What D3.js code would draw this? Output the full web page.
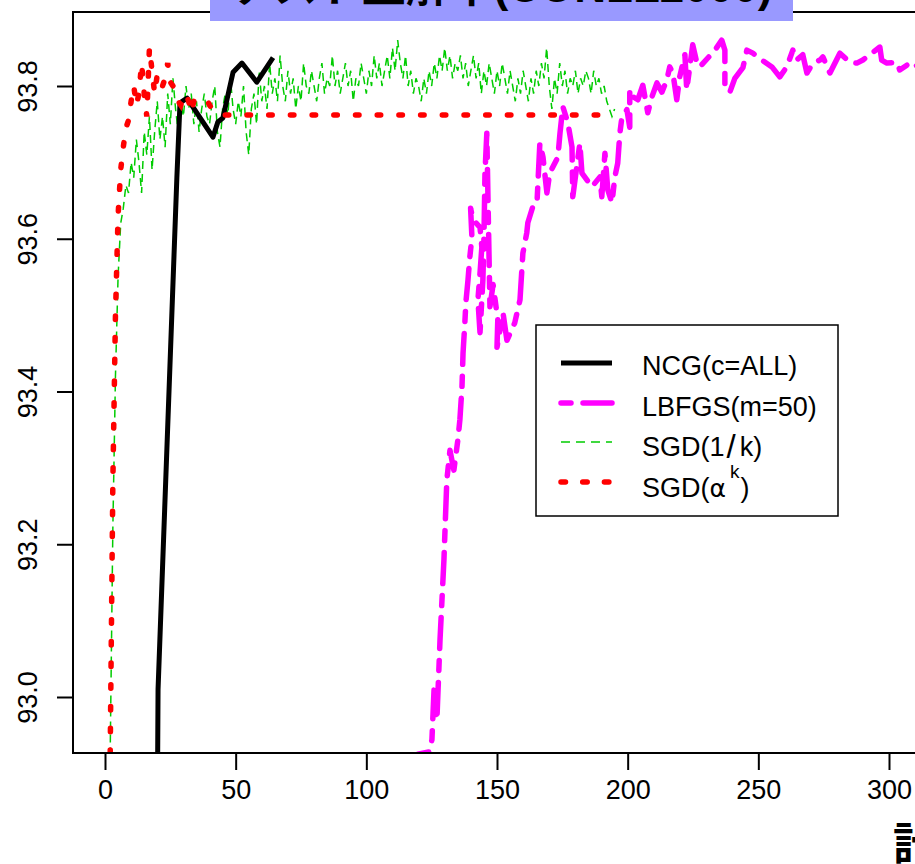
<!DOCTYPE html>
<html><head><meta charset="utf-8">
<script src="https://cdn.jsdelivr.net/npm/d3@7"></script>
<style>body{margin:0;background:#fff}svg{display:block}</style>
</head><body>
<svg id="c" width="915" height="864"></svg>
<script>
// ---- data ----
const titleText = "テスト正解率(CONLL2000)";
const xLabelText = "計算時間";
const xTicks = [0, 50, 100, 150, 200, 250, 300];
const yTicks = [93.0, 93.2, 93.4, 93.6, 93.8];
const seriesNames = ["NCG(c=ALL)", "LBFGS(m=50)", "SGD(1/k)", "SGD(αk)"];

const ncg = [[19.6,92.60],[20.3,93.01],[27.5,93.68],[28.7,93.778],[31.4,93.784],[41.3,93.733],
  [43.2,93.753],[45.1,93.758],[49.0,93.818],[52.4,93.830],[58.1,93.805],[64.3,93.837]];

const sgdAlpha = [[1,92.5],[2,92.93],[3,93.28],[4,93.50],[5,93.63],[6,93.69],[7,93.72],[8,93.745],
  [9,93.755],[10,93.78],[11,93.80],[12,93.775],[13,93.79],[14,93.83],[15,93.79],[16,93.76],[17,93.85],
  [18,93.82],[19,93.79],[20,93.815],[21,93.80],[22,93.80],[23,93.81],[24,93.83],[25,93.805],[26,93.80],
  [27,93.79],[28,93.78],[29,93.775],[30,93.785],[31,93.79],[32,93.78],[33,93.765],[34,93.78],[35,93.78],
  [36,93.782],[37,93.782],[38,93.78],[39,93.782],[40,93.775],[41,93.77],[42,93.768],[43,93.765],
  [44,93.763],[45,93.762],[195,93.762]];

const sgdInv = [92.6,92.93,93.22,93.42,93.55,93.62,93.64,93.67,93.66,93.70,93.68,93.73,93.70,93.66,93.74,
  93.71,93.76,93.69,93.74,93.78,93.73,93.76,93.72,93.79,93.75,93.81,93.77,93.74,93.78,93.76,93.80,93.77,
  93.79,93.75,93.78,93.74,93.77,93.79,93.76,93.75,93.78,93.80,93.74,93.72,93.77,93.79,93.76,93.81,93.77,
  93.75,93.78,93.76,93.80,93.74,93.71,93.77,93.79,93.75,93.82,93.78,93.80,93.77,93.83,93.79,93.81,93.78,
  93.84,93.80,93.78,93.82,93.79,93.81,93.77,93.80,93.78,93.83,93.80,93.79,93.82,93.80,93.78,93.81,93.83,
  93.79,93.81,93.80,93.84,93.80,93.82,93.79,93.81,93.83,93.80,93.82,93.78,93.81,93.80,93.83,93.81,93.79,
  93.82,93.80,93.84,93.81,93.83,93.80,93.82,93.84,93.81,93.85,93.82,93.86,93.83,93.81,93.84,93.80,93.82,
  93.79,93.81,93.80,93.78,93.81,93.79,93.82,93.80,93.83,93.81,93.84,93.82,93.85,93.82,93.84,93.81,93.83,
  93.82,93.84,93.81,93.83,93.80,93.82,93.84,93.81,93.83,93.79,93.82,93.80,93.83,93.81,93.79,93.82,93.80,
  93.83,93.81,93.79,93.82,93.80,93.78,93.81,93.79,93.82,93.80,93.78,93.81,93.79,93.82,93.80,93.83,93.81,
  93.85,93.80,93.77,93.81,93.79,93.83,93.80,93.82,93.79,93.81,93.80,93.82,93.79,93.81,93.80,93.82,93.81,
  93.79,93.82,93.80,93.81,93.79,93.80,93.78,93.77,93.76,93.77];

const lbfgs = [[118,92.70],[119.7,92.925],[124,92.928],[125.1,92.944],[125.9,93.009],[127.0,92.970],
  [128.2,93.075],[129.7,93.18],[130.8,93.284],[132.0,93.323],[133.5,93.297],[135.0,93.336],[135.8,93.363],
  [136.6,93.406],[137.0,93.450],[137.7,93.490],[138.1,93.517],[138.9,93.546],[139.6,93.576],[140.4,93.602],
  [139.9,93.640],[140.8,93.625],[143.5,93.615],[144.2,93.589],[143.5,93.555],[142.7,93.520],[143.5,93.477],
  [144.6,93.546],[145.0,93.600],[145.4,93.686],[146.1,93.738],[147.3,93.511],[148.5,93.54],[150.3,93.494],
  [150.0,93.458],[152.3,93.503],[153.8,93.467],[156.8,93.490],[158.8,93.520],[159.9,93.581],[161.4,93.608],
  [161.8,93.621],[163.7,93.642],[165.3,93.647],[166.4,93.725],[167.6,93.707],[169.1,93.660],[170.2,93.686],
  [173.3,93.707],[174.1,93.738],[175.2,93.773],[177.1,93.752],[178.7,93.720],[179.0,93.655],[181.7,93.725],
  [182.5,93.686],[186.3,93.668],[189.4,93.681],[190.1,93.655],[191.3,93.712],[192.4,93.664],[194.0,93.647],
  [195.1,93.681],[196.2,93.699],[197.0,93.738],[197.8,93.759],[199.7,93.769],[200.8,93.746],[200.8,93.795],
  [202.0,93.786],[203.9,93.782],[205.8,93.801],[207.7,93.765],[209.3,93.786],[211.2,93.804],[213.1,93.792],
  [215.0,93.808],[216.1,93.825],[217.3,93.817],[218.8,93.782],[219.9,93.812],[221.9,93.841],[222.6,93.795],
  [224.9,93.854],[226.5,93.830],[227.6,93.825],[233.4,93.847],[236.0,93.860],[237.2,93.847],[237.2,93.799],
  [239.1,93.792],[241.0,93.810],[244.1,93.824],[245.6,93.847],[247.9,93.843],[251.3,93.834],[255.2,93.825],
  [258.2,93.812],[260.9,93.825],[263.2,93.847],[264.7,93.834],[267.0,93.841],[268.6,93.817],[270.9,93.830],
  [273.6,93.834],[274.7,93.838],[277.4,93.817],[281.2,93.843],[285.0,93.831],[287.7,93.830],[290.0,93.834],
  [296.5,93.851],[297.2,93.834],[299.2,93.830],[303.0,93.831],[304.1,93.821],[308.0,93.830],[309.9,93.825],
  [312,93.83]];

// ---- drawing ----
const svg = d3.select("#c");
const FONT = "'Liberation Sans', Arial, 'Noto Sans CJK JP', sans-serif";
const x = d3.scaleLinear().domain([0, 300]).range([105, 889]);
const y = d3.scaleLinear().domain([93.0, 93.8]).range([697, 86]);
const L = x.invert(73), R = x.invert(937), B = y.invert(753), T = y.invert(12);

svg.append("defs").append("clipPath").attr("id","clip").append("rect")
  .attr("x", x(L)).attr("y", y(T)).attr("width", x(R)-x(L)).attr("height", y(B)-y(T));

const plot = svg.append("g").attr("clip-path","url(#clip)");
const line = d3.line().x(d => x(d[0])).y(d => y(d[1]));

plot.append("path").datum(sgdInv.map((v,i) => [i+1, v])).attr("d", line)
  .attr("fill","none").attr("stroke","#00CC00").attr("stroke-width",1.5).attr("stroke-dasharray","8,5");
plot.append("path").datum(ncg).attr("d", line)
  .attr("fill","none").attr("stroke","#000").attr("stroke-width",5).attr("stroke-linejoin","round");
plot.append("path").datum(sgdAlpha).attr("d", line)
  .attr("fill","none").attr("stroke","#FF0000").attr("stroke-width",5.5)
  .attr("stroke-linecap","round").attr("stroke-dasharray","3.5,18.2");
plot.append("path").datum(lbfgs).attr("d", line)
  .attr("fill","none").attr("stroke","#FF00FF").attr("stroke-width",5.5)
  .attr("stroke-linecap","round").attr("stroke-linejoin","round").attr("stroke-dasharray","10,12,31,12");

// box
svg.append("rect").attr("x", x(L)).attr("y", y(T)).attr("width", x(R)-x(L)).attr("height", y(B)-y(T))
  .attr("fill","none").attr("stroke","#000").attr("stroke-width",2);

// axes
const xAxis = d3.axisBottom(x).tickValues(xTicks).tickSize(17).tickPadding(10).tickFormat(d3.format("d"));
const gx = svg.append("g").attr("transform", `translate(0,${y(B)})`).call(xAxis);
gx.select(".domain").remove();
gx.selectAll(".tick line").attr("stroke-width",2);
gx.selectAll(".tick text").attr("font-family",FONT).attr("font-size",27).attr("fill","#000");

const yAxis = d3.axisLeft(y).tickValues(yTicks).tickSize(16).tickFormat(d3.format(".1f"));
const gy = svg.append("g").attr("transform", `translate(${x(L)},0)`).call(yAxis);
gy.select(".domain").remove();
gy.selectAll(".tick line").attr("stroke-width",2);
gy.selectAll(".tick text").attr("font-family",FONT).attr("font-size",27).attr("fill","#000")
  .attr("x",0).attr("dy",0).attr("text-anchor","middle")
  .attr("transform","translate(-36,0) rotate(-90)");

// title
svg.append("rect").attr("x",210).attr("y",-10).attr("width",583).attr("height",31).attr("fill","#9999FF");
svg.append("text").attr("x",501).attr("y",2).attr("dominant-baseline","alphabetic").attr("text-anchor","middle")
  .attr("font-family",FONT).attr("font-weight","bold").attr("font-size",44).attr("fill","#000").text(titleText);

// clipped x label
svg.append("text").attr("x",893).attr("y",860).attr("font-family","'Noto Sans CJK JP', sans-serif")
  .attr("font-weight","bold").attr("font-size",44).attr("fill","#000").text(xLabelText);

// legend
const lg = svg.append("g");
lg.append("rect").attr("x",536).attr("y",325).attr("width",302).attr("height",191)
  .attr("fill","#fff").attr("stroke","#000").attr("stroke-width",1.5);
const rows = [363, 403, 442, 482];
const styles = [
  {c:"#000", w:5, dash:null, cap:"butt"},
  {c:"#FF00FF", w:5.5, dash:"10,12,31,12", cap:"round"},
  {c:"#00CC00", w:1.5, dash:"9,6", cap:"butt"},
  {c:"#FF0000", w:5.5, dash:"4.5,17.2", cap:"round"}
];
rows.forEach((ry,i) => {
  const s = styles[i];
  const ln = lg.append("line").attr("x1",561).attr("x2",612).attr("y1",ry).attr("y2",ry)
    .attr("stroke",s.c).attr("stroke-width",s.w).attr("stroke-linecap",s.cap);
  if (s.dash) ln.attr("stroke-dasharray",s.dash);
});
const tx = 642;
lg.append("text").attr("x",tx).attr("y",375).attr("font-family",FONT).attr("font-size",27).text(seriesNames[0]);
lg.append("text").attr("x",tx).attr("y",416).attr("font-family",FONT).attr("font-size",27).text(seriesNames[1]);
const t3 = lg.append("text").attr("x",tx).attr("y",456).attr("font-family",FONT).attr("font-size",27);
t3.append("tspan").text("SGD(1");
t3.append("tspan").attr("font-size",33).attr("dx",2).attr("dy",2).text("/");
t3.append("tspan").attr("dx",4).attr("dy",-2).text("k)");
const t4 = lg.append("text").attr("x",tx).attr("y",497).attr("font-family",FONT).attr("font-size",27);
t4.append("tspan").text("SGD(");
t4.append("tspan").attr("font-family","'DejaVu Sans', sans-serif").attr("font-size",25).text("α");
t4.append("tspan").attr("font-size",19).attr("dx",4).attr("dy",-19).text("k");
t4.append("tspan").attr("dx",1).attr("dy",19).text(")");
</script>
</body></html>
